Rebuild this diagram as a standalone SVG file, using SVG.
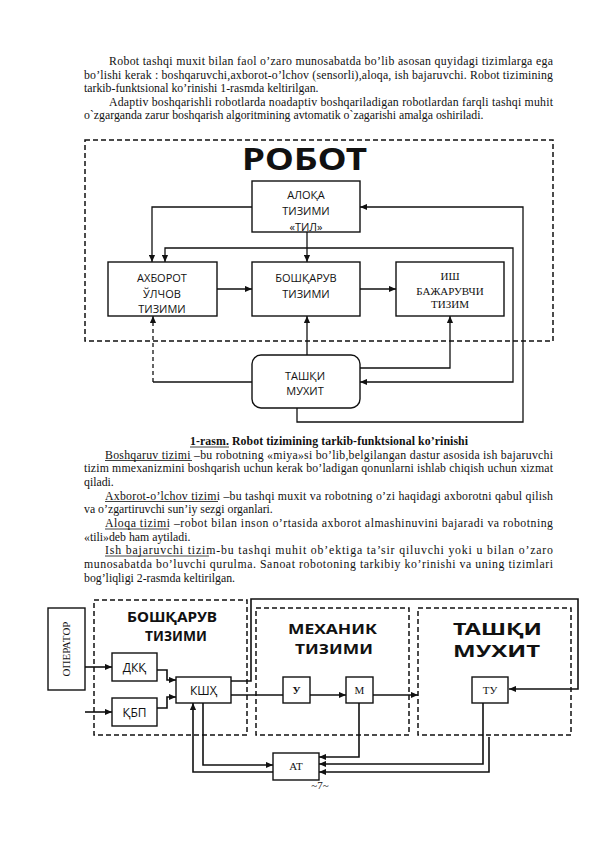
<svg xmlns="http://www.w3.org/2000/svg" width="596" height="842" viewBox="0 0 596 842">
<style>
.bg{fill:#fff}
.body{font-family:"Liberation Serif","Times New Roman",serif;font-size:11.8px;fill:#111}
.cap{font-family:"Liberation Serif","Times New Roman",serif;font-size:11.8px;font-weight:bold;fill:#111}
.box{fill:#fff;stroke:#111;stroke-width:1.4}
.dash{fill:none;stroke:#111;stroke-width:1.5;stroke-dasharray:5 3}
.ns{font-family:"Open Sans","Noto Sans",sans-serif;font-size:11px;fill:#111;text-anchor:middle}
.ns12{font-family:"Open Sans","Noto Sans",sans-serif;font-size:12px;fill:#111;text-anchor:middle}
.sf{font-family:"Liberation Serif","Times New Roman",serif;font-size:11px;fill:#111;text-anchor:middle}
.big{font-family:"Noto Sans","DejaVu Sans",sans-serif;font-weight:bold;fill:#111;text-anchor:start}
.ln{fill:none;stroke:#111;stroke-width:1.3}
.ln2{fill:none;stroke:#111;stroke-width:1.6}
.arr{marker-end:url(#ah)}
.ul{stroke:#111;stroke-width:0.8}
</style>
<defs>
<marker id="ah" viewBox="0 0 8 8" refX="8" refY="4" markerWidth="7" markerHeight="7" markerUnits="userSpaceOnUse" orient="auto-start-reverse">
<path d="M0,0.5 L8,4 L0,7.5z" fill="#111"/>
</marker>
</defs>
<rect class="bg" x="0" y="0" width="596" height="842"/>

<g id="text-top">
<text class="body" x="109" y="65" textLength="444" lengthAdjust="spacing">Robot tashqi muxit  bilan faol o’zaro  munosabatda  bo’lib  asosan quyidagi tizimlarga ega</text>
<text class="body" x="84" y="78.5" textLength="469" lengthAdjust="spacing">bo’lishi kerak : boshqaruvchi,axborot-o’lchov (sensorli),aloqa, ish bajaruvchi. Robot tizimining</text>
<text class="body" x="84" y="92">tarkib-funktsional ko’rinishi 1-rasmda keltirilgan.</text>
<text class="body" x="109" y="105.5" textLength="444" lengthAdjust="spacing">Adaptiv boshqarishli robotlarda noadaptiv boshqariladigan robotlardan farqli tashqi muhit</text>
<text class="body" x="84" y="119">o`zgarganda zarur boshqarish algoritmining avtomatik o`zagarishi amalga oshiriladi.</text>
</g>

<g id="robot-frame">
<rect class="dash" x="85" y="140" width="468" height="201"/>
<text class="big" x="242" y="170" font-size="31" textLength="125" lengthAdjust="spacingAndGlyphs">РОБОТ</text>
</g>

<g id="connectors-1">
<path class="ln arr" d="M252,207 H152 V262"/>
<path class="ln arr" d="M307,232 V262"/>
<path class="ln arr" d="M165,262 V248 H513 V382 H360" marker-start="url(#ah)"/>
<path class="ln arr" d="M297,408 V422 H523 V207 H360"/>
<path class="ln arr" d="M217,289 H252"/>
<path class="ln arr" d="M360,289 H396"/>
<path class="ln arr" d="M307,355 V316"/>
<path class="ln arr" d="M360,368 H450 V316"/>
<path class="ln" d="M252,382 H153"/>
<path class="ln arr" d="M153,382 V316" stroke-dasharray="4 3"/>
</g>

<g id="aloqa">
<rect class="box" x="252" y="181" width="108" height="51"/>
<text class="ns" x="306" y="199">АЛОҚА</text>
<text class="ns" x="306" y="215">ТИЗИМИ</text>
<text class="ns" x="306" y="231">«ТИЛ»</text>
</g>
<g id="axborot">
<rect class="box" x="108" y="262" width="109" height="54"/>
<text class="ns" x="162" y="282">АХБОРОТ</text>
<text class="ns" x="162" y="298">ЎЛЧОВ</text>
<text class="ns" x="162" y="313">ТИЗИМИ</text>
</g>
<g id="boshqaruv">
<rect class="box" x="252" y="262" width="108" height="54"/>
<text class="ns" x="306" y="282">БОШҚАРУВ</text>
<text class="ns" x="306" y="298">ТИЗИМИ</text>
</g>
<g id="ish">
<rect class="box" x="396" y="262" width="108" height="54"/>
<text class="sf" x="450" y="280" font-size="12">ИШ</text>
<text class="sf" x="450" y="295">БАЖАРУВЧИ</text>
<text class="sf" x="450" y="308">ТИЗИМ</text>
</g>
<g id="tashqi">
<rect class="box" x="252" y="355" width="108" height="53" rx="9"/>
<text class="ns" x="305" y="380">ТАШҚИ</text>
<text class="ns" x="305" y="395">МУХИТ</text>
</g>

<g id="text-mid">
<text class="cap" x="190" y="445" textLength="278" lengthAdjust="spacing">1-rasm. Robot tizimining tarkib-funktsional ko’rinishi</text>
<line class="ul" x1="190" y1="447" x2="229" y2="447"/>
<text class="body" x="105" y="458.5" textLength="448" lengthAdjust="spacing">Boshqaruv tizimi –bu robotning «miya»si bo’lib,belgilangan dastur asosida ish bajaruvchi</text>
<line class="ul" x1="105" y1="460.5" x2="192" y2="460.5"/>
<text class="body" x="84" y="472" textLength="469" lengthAdjust="spacing">tizim mmexanizmini boshqarish uchun kerak bo’ladigan qonunlarni ishlab chiqish  uchun xizmat</text>
<text class="body" x="84" y="485.5">qiladi.</text>
<text class="body" x="105" y="499.5" textLength="448" lengthAdjust="spacing">Axborot-o’lchov tizimi –bu tashqi muxit va robotning o’zi haqidagi axborotni qabul qilish</text>
<line class="ul" x1="105" y1="501.5" x2="218" y2="501.5"/>
<text class="body" x="84" y="513">va o’zgartiruvchi sun’iy sezgi organlari.</text>
<text class="body" x="105" y="527" textLength="448" lengthAdjust="spacing">Aloqa tizimi –robot bilan inson o’rtasida axborot almashinuvini bajaradi va robotning</text>
<line class="ul" x1="105" y1="529" x2="169" y2="529"/>
<text class="body" x="84" y="540.5">«tili»deb  ham aytiladi.</text>
<text class="body" x="105" y="554" textLength="448" lengthAdjust="spacing">Ish bajaruvchi tizim-bu tashqi muhit ob’ektiga ta’sir qiluvchi yoki u bilan o’zaro</text>
<line class="ul" x1="105" y1="556" x2="209" y2="556"/>
<text class="body" x="84" y="568" textLength="469" lengthAdjust="spacing">munosabatda bo’luvchi qurulma. Sanoat robotoning tarkibiy ko’rinishi va uning tizimlari</text>
<text class="body" x="84" y="581.5">bog’liqligi 2-rasmda keltirilgan.</text>
</g>

<g id="frames-2">
<rect class="dash" x="94" y="600" width="153" height="135"/>
<text class="big" x="127" y="622" font-size="15" textLength="90" lengthAdjust="spacingAndGlyphs">БОШҚАРУВ</text>
<text class="big" x="145" y="641" font-size="15" textLength="62" lengthAdjust="spacingAndGlyphs">ТИЗИМИ</text>
<rect class="dash" x="256" y="608" width="153" height="127"/>
<text class="big" x="288" y="634" font-size="14.5" textLength="89" lengthAdjust="spacingAndGlyphs">МЕХАНИК</text>
<text class="big" x="295" y="654" font-size="14.5" textLength="78" lengthAdjust="spacingAndGlyphs">ТИЗИМИ</text>
<rect class="dash" x="418" y="608" width="153" height="127"/>
<text class="big" x="453" y="635" font-size="16" textLength="89" lengthAdjust="spacingAndGlyphs">ТАШҚИ</text>
<text class="big" x="453" y="657" font-size="16" textLength="87" lengthAdjust="spacingAndGlyphs">МУХИТ</text>
</g>

<g id="connectors-2">
<path class="ln2 arr" d="M85,667 H112"/>
<path class="ln2 arr" d="M85,712 H112"/>
<path class="ln2 arr" d="M157,670 H167 V680 H176"/>
<path class="ln2 arr" d="M157,708 H167 V697 H176"/>
<path class="ln2 arr" d="M231,681 H251 V599 H578 V689 H509"/>
<path class="ln2" d="M231,695 H283"/>
<path class="ln2 arr" d="M310,695 H346"/>
<path class="ln2 arr" d="M373,695 H418"/>
<path class="ln2 arr" d="M359,703 V757 H319"/>
<path class="ln2 arr" d="M483,703 V764 H319"/>
<path class="ln2 arr" d="M489,737 V772 H319"/>
<path class="ln2 arr" d="M203,703 V765 H273"/>
<path class="ln2 arr" d="M273,772 H193 V703"/>
</g>

<g id="operator">
<rect class="box" x="48" y="608" width="37" height="82"/>
<text class="sf" transform="translate(70,649) rotate(-90)">ОПЕРАТОР</text>
</g>
<g id="dkk">
<rect class="box" x="112" y="653" width="45" height="28"/>
<text class="ns12" x="134.5" y="672">ДКҚ</text>
</g>
<g id="kbp">
<rect class="box" x="112" y="698" width="45" height="28"/>
<text class="ns12" x="134.5" y="717">ҚБП</text>
</g>
<g id="kshh">
<rect class="box" x="176" y="677" width="55" height="26"/>
<text class="ns12" x="203.5" y="695">КШҲ</text>
</g>
<g id="u">
<rect class="box" x="283" y="677" width="27" height="26"/>
<text class="sf" x="296.5" y="694" font-weight="bold">У</text>
</g>
<g id="m">
<rect class="box" x="346" y="677" width="27" height="26"/>
<text class="sf" x="359.5" y="694">М</text>
</g>
<g id="tu">
<rect class="box" x="472" y="677" width="36" height="26"/>
<text class="sf" x="490" y="694">ТУ</text>
</g>
<g id="at">
<rect class="box" x="273" y="753" width="46" height="27"/>
<text class="sf" x="296" y="770">АТ</text>
</g>

<text class="sf" x="320" y="789">~7~</text>
</svg>
